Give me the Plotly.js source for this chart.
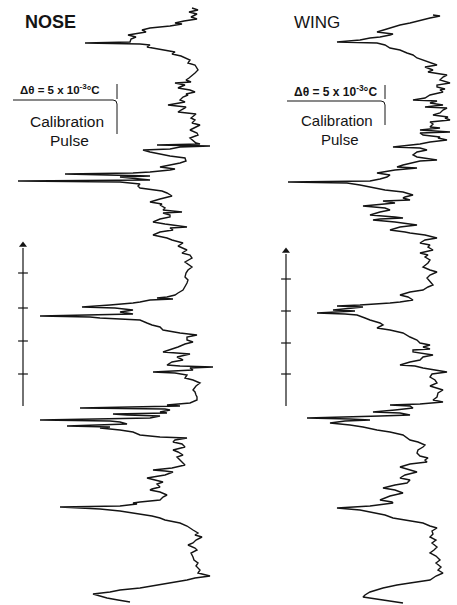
<!DOCTYPE html>
<html><head><meta charset="utf-8">
<script src="https://cdn.plot.ly/plotly-3.0.1.min.js"></script>
<style>html,body{margin:0;padding:0;background:#fff}#c{width:457px;height:605px}</style>
</head><body><div id="c"></div>
<script>
// NOSE trace readings: [depth down the page, temperature deflection]
const noseReadings = [[8,192],[10,198],[12,189],[14,197],[17,191],[19,197],[21,184],[23,175],[24,182],[26,170],[28,150],[30,142],[32,146],[35,128],[37,136],[39,131],[42,130],[43,85],[44,140],[45,150],[47,147],[49,158],[52,175],[54,172],[56,181],[60,190],[63,188],[65,195],[70,198],[73,195],[75,193],[78,189],[80,186],[82,191],[83,175],[85,185],[87,180],[88,178],[90,190],[92,195],[94,186],[95,188],[97,183],[100,180],[102,185],[104,172],[105,168],[107,186],[108,185],[110,181],[112,178],[114,196],[115,195],[118,191],[120,195],[123,192],[125,200],[128,194],[130,190],[133,197],[135,198],[138,190],[140,192],[143,196],[144,200],[145,157],[146,210],[147,180],[149,170],[150,143],[152,150],[153,155],[156,170],[158,185],[161,186],[163,180],[165,170],[167,160],[169,175],[170,170],[172,150],[173,133],[174,65],[175,130],[176,150],[177,120],[179,145],[180,150],[181,18],[182,120],[184,140],[186,138],[188,140],[191,162],[193,167],[196,172],[199,160],[202,150],[204,162],[205,160],[208,165],[210,163],[212,182],[213,163],[215,170],[217,170],[219,160],[222,153],[224,165],[227,187],[228,170],[230,173],[232,160],[235,153],[238,167],[240,172],[243,183],[246,178],[250,187],[253,182],[255,190],[258,192],[262,185],[265,190],[267,192],[270,188],[273,186],[277,185],[280,188],[283,187],[287,185],[290,183],[293,178],[295,175],[297,167],[298,157],[299,173],[300,150],[302,140],[303,133],[305,110],[307,82],[308,115],[310,133],[312,120],[314,133],[316,40],[317,90],[318,100],[320,140],[323,147],[325,152],[327,160],[330,163],[333,180],[335,197],[337,187],[340,187],[342,193],[344,185],[347,178],[350,170],[352,163],[354,190],[357,177],[360,183],[362,172],[365,167],[366,180],[367,213],[368,190],[370,193],[372,153],[373,175],[375,187],[378,185],[380,193],[383,200],[386,196],[390,193],[392,195],[395,196],[397,197],[400,197],[403,190],[405,167],[406,180],[408,80],[409,165],[410,170],[412,160],[413,167],[414,113],[415,127],[416,160],[418,150],[420,40],[421,110],[422,120],[424,127],[426,67],[427,110],[428,100],[430,120],[432,133],[435,140],[437,160],[438,187],[440,175],[442,173],[444,182],[447,185],[449,175],[450,173],[452,178],[455,183],[457,177],[460,180],[462,182],[465,185],[468,172],[470,153],[471,165],[472,173],[475,165],[478,147],[480,155],[482,163],[484,157],[487,160],[489,152],[490,150],[492,160],[495,167],[497,163],[500,160],[502,140],[503,133],[504,137],[506,120],[507,60],[508,90],[509,100],[511,120],[513,133],[516,152],[518,160],[520,165],[523,180],[526,187],[530,193],[533,198],[535,195],[537,202],[540,196],[543,193],[545,188],[548,195],[550,197],[553,191],[557,193],[560,194],[563,198],[566,196],[570,200],[573,198],[576,210],[578,195],[580,187],[583,170],[585,157],[588,140],[590,120],[592,110],[594,93],[596,100],[598,107],[600,118],[602,130]];
// WING trace readings: [depth, temperature deflection]
const wingReadings = [[15,433],[16,440],[18,430],[20,423],[22,415],[23,410],[25,400],[28,390],[30,383],[32,377],[34,393],[35,390],[37,380],[38,370],[40,360],[42,337],[43,377],[45,385],[48,390],[50,400],[53,407],[55,413],[58,417],[60,423],[63,430],[65,437],[67,425],[70,433],[72,428],[75,447],[77,443],[80,440],[83,450],[85,437],[87,437],[89,445],[90,440],[92,443],[95,430],[98,425],[100,413],[101,437],[103,430],[105,443],[107,425],[108,447],[110,443],[113,440],[115,433],[117,448],[118,445],[120,450],[122,430],[124,433],[127,430],[128,440],[130,420],[132,450],[133,420],[135,423],[137,440],[138,438],[140,447],[142,430],[144,420],[147,393],[148,420],[150,427],[152,417],[155,413],[157,417],[160,437],[161,420],[163,410],[165,403],[167,397],[168,417],[170,395],[173,377],[175,390],[177,387],[179,380],[181,370],[182,288],[183,347],[185,360],[187,370],[190,385],[192,403],[195,413],[197,405],[198,403],[200,410],[201,383],[203,395],[205,375],[206,363],[208,385],[210,390],[212,380],[215,370],[217,395],[218,403],[219,380],[220,373],[222,395],[225,417],[227,400],[230,390],[232,405],[233,410],[235,425],[238,437],[240,425],[243,420],[245,430],[247,428],[250,433],[253,420],[255,428],[257,425],[260,430],[263,428],[267,423],[270,430],[272,437],[275,430],[278,427],[282,430],[285,433],[287,428],[290,423],[292,410],[295,400],[297,408],[300,413],[302,400],[303,390],[305,360],[306,337],[307,363],[308,350],[310,333],[311,355],[313,317],[314,345],[315,357],[318,365],[320,370],[323,380],[325,383],[328,377],[330,390],[333,403],[337,410],[340,417],[343,420],[345,430],[347,423],[349,430],[350,413],[352,413],[355,433],[357,423],[360,420],[362,410],[365,400],[366,415],[368,423],[370,435],[372,447],[374,432],[377,430],[380,435],[383,437],[386,430],[390,443],[393,438],[397,437],[400,433],[402,443],[404,420],[405,390],[406,410],[408,413],[410,395],[412,373],[413,400],[415,410],[416,380],[418,307],[419,350],[420,370],[421,345],[423,330],[425,350],[427,363],[430,377],[432,390],[435,403],[438,408],[440,410],[442,418],[445,425],[447,423],[450,418],[453,417],[456,420],[458,428],[460,425],[462,427],[464,410],[467,400],[470,410],[472,417],[475,405],[478,400],[480,410],[483,407],[485,395],[488,383],[490,395],[493,403],[496,390],[500,380],[502,392],[503,393],[506,370],[508,337],[510,360],[512,370],[515,385],[518,393],[520,405],[523,423],[526,430],[528,437],[531,432],[534,433],[537,430],[540,436],[543,432],[547,437],[550,434],[553,430],[556,436],[560,440],[563,436],[567,441],[570,438],[573,443],[576,436],[580,430],[583,410],[585,397],[588,383],[592,370],[595,365],[597,363],[600,383],[603,403]];
// Vertical scale markers (depth of tick marks)
const noseScaleTicks = [273,308,341,374];
const wingScaleTicks = [279,311,343,374];
const panelTitles = ["NOSE","WING"];
const calibLabel = "Δθ = 5 x 10<sup>-3</sup>°C";

const ink = '#141414';
const line = {color:ink, width:1.4};
const traces = [
  {x:noseReadings.map(p=>p[1]), y:noseReadings.map(p=>p[0]), mode:'lines', line:line, hoverinfo:'skip'},
  {x:wingReadings.map(p=>p[1]), y:wingReadings.map(p=>p[0]), mode:'lines', line:line, hoverinfo:'skip'},
  {x:noseScaleTicks.map(()=>23), y:noseScaleTicks, mode:'markers', marker:{symbol:'line-ew', size:7, line:{width:1.2,color:ink}}, hoverinfo:'skip'},
  {x:wingScaleTicks.map(()=>286), y:wingScaleTicks, mode:'markers', marker:{symbol:'line-ew', size:7, line:{width:1.2,color:ink}}, hoverinfo:'skip'},
  {x:[23,286], y:[245,251], mode:'markers', marker:{symbol:'triangle-up', size:7, color:ink}, hoverinfo:'skip'}
];
const L = (x0,y0,x1,y1,w) => ({type:'line',xref:'x',yref:'y',x0,y0,x1,y1,line:{color:ink,width:w||1}});
const shapes = [
  L(23,248,23,406,1.2), L(286,254,286,406,1.2),
  // nose calibration bracket
  L(117,84,117,99), L(13,100,113,100,1.2), L(117,104,117,134),
  {type:'path',xref:'x',yref:'y',path:'M113,100 Q117,100 117,104',line:{color:ink,width:1}},
  // wing calibration bracket
  L(385,85,385,99), L(287,101,381,101,1.2), L(385,105,385,125),
  {type:'path',xref:'x',yref:'y',path:'M381,101 Q385,101 385,105',line:{color:ink,width:1}}
];
const F = 'Liberation Sans, Arial, sans-serif';
const annotations = [
  {x:50,y:22,text:'<b>'+panelTitles[0]+'</b>',showarrow:false,font:{family:F,size:18,color:ink}},
  {x:317,y:22,text:panelTitles[1],showarrow:false,font:{family:F,size:17,color:ink}},
  {x:60,y:89,text:'<b>'+calibLabel+'</b>',showarrow:false,font:{family:F,size:11.5,color:ink}},
  {x:67,y:121,text:'Calibration',showarrow:false,font:{family:F,size:15.5,color:ink}},
  {x:69,y:140,text:'Pulse',showarrow:false,font:{family:F,size:15.5,color:ink}},
  {x:335,y:91,text:'<b>'+calibLabel+'</b>',showarrow:false,font:{family:F,size:12,color:ink}},
  {x:337,y:120,text:'Calibration',showarrow:false,font:{family:F,size:15,color:ink}},
  {x:340,y:139,text:'Pulse',showarrow:false,font:{family:F,size:15,color:ink}}
];
Plotly.newPlot('c', traces, {
  width:457, height:605, margin:{l:0,r:0,t:0,b:0},
  paper_bgcolor:'#fff', plot_bgcolor:'#fff', showlegend:false,
  xaxis:{range:[0,457], visible:false, fixedrange:true},
  yaxis:{range:[605,0], visible:false, fixedrange:true},
  shapes, annotations
}, {staticPlot:true, displayModeBar:false});
</script></body></html>
